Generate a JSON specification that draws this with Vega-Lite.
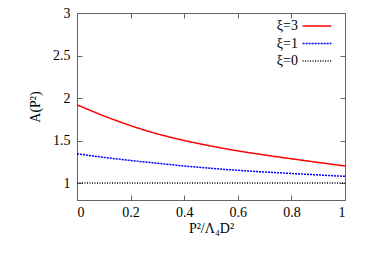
{
  "$schema": "https://vega.github.io/schema/vega-lite/v6.json",
  "autosize": "none",
  "width": 268,
  "height": 187,
  "padding": {"left": 77, "top": 13, "right": 20, "bottom": 63},
  "background": "white",
  "config": {
    "font": "Liberation Serif",
    "view": {"stroke": "#666", "strokeWidth": 1},
    "text": {"font": "Liberation Serif"},
    "legend": {"labelFont": "Liberation Serif"},
    "axis": {"labelFont": "Liberation Serif", "titleFont": "Liberation Serif", "labelFontSize": 14, "titleFontSize": 14, "titleFontWeight": "normal", "labelColor": "#000", "titleColor": "#000", "domainColor": "#666", "tickColor": "#666", "grid": false}
  },
  "data": {"values": [
    {"x": 0, "y": 1.92, "s": "ξ=3"},
    {"x": 0.1, "y": 1.79, "s": "ξ=3"},
    {"x": 0.2, "y": 1.675, "s": "ξ=3"},
    {"x": 0.3, "y": 1.578, "s": "ξ=3"},
    {"x": 0.4, "y": 1.5, "s": "ξ=3"},
    {"x": 0.5, "y": 1.435, "s": "ξ=3"},
    {"x": 0.6, "y": 1.378, "s": "ξ=3"},
    {"x": 0.7, "y": 1.33, "s": "ξ=3"},
    {"x": 0.8, "y": 1.285, "s": "ξ=3"},
    {"x": 0.9, "y": 1.242, "s": "ξ=3"},
    {"x": 1, "y": 1.2, "s": "ξ=3"},
    {"x": 0, "y": 1.344, "s": "ξ=1"},
    {"x": 0.1, "y": 1.302, "s": "ξ=1"},
    {"x": 0.2, "y": 1.265, "s": "ξ=1"},
    {"x": 0.3, "y": 1.232, "s": "ξ=1"},
    {"x": 0.4, "y": 1.2, "s": "ξ=1"},
    {"x": 0.5, "y": 1.173, "s": "ξ=1"},
    {"x": 0.6, "y": 1.149, "s": "ξ=1"},
    {"x": 0.7, "y": 1.13, "s": "ξ=1"},
    {"x": 0.8, "y": 1.112, "s": "ξ=1"},
    {"x": 0.9, "y": 1.095, "s": "ξ=1"},
    {"x": 1, "y": 1.078, "s": "ξ=1"},
    {"x": 0, "y": 1, "s": "ξ=0"},
    {"x": 1, "y": 1, "s": "ξ=0"}
  ]},
  "layer": [
    {
      "mark": {"type": "line", "interpolate": "monotone", "strokeWidth": 1.5},
      "encoding": {
        "x": {"field": "x", "type": "quantitative", "scale": {"domain": [0, 1], "nice": false}, "axis": {"values": [0, 0.2, 0.4, 0.6, 0.8, 1], "format": "~g", "labelFont": "Liberation Serif", "tickSize": -5, "labelPadding": 10, "title": "P²/Λ₄D²", "titlePadding": 2}},
        "y": {"field": "y", "type": "quantitative", "scale": {"domain": [0.8, 3], "nice": false, "zero": false}, "axis": {"values": [1, 1.5, 2, 2.5, 3], "format": "~g", "labelFont": "Liberation Serif", "tickSize": -5, "labelPadding": 12, "title": "A(P²)", "titlePadding": 10}},
        "color": {"field": "s", "type": "nominal", "sort": ["ξ=3", "ξ=1", "ξ=0"], "scale": {"domain": ["ξ=3", "ξ=1", "ξ=0"], "range": ["#ff0000", "#0000ff", "#000000"]},
          "legend": {"orient": "none", "legendX": 231, "legendY": 4, "title": null, "symbolType": "M-1.8,0H1.8", "symbolSize": 256, "symbolStrokeWidth": 1.5, "labelAlign": "right", "labelOffset": -28, "labelFontSize": 14, "labelFont": "Liberation Serif", "labelColor": "#000", "rowPadding": 1.5, "labelLimit": 100}},
        "strokeDash": {"field": "s", "type": "nominal", "sort": ["ξ=3", "ξ=1", "ξ=0"], "scale": {"domain": ["ξ=3", "ξ=1", "ξ=0"], "range": [[1, 0], [2, 1], [1, 1.5]]}, "legend": null}
      }
    },
    {
      "mark": {"type": "line", "opacity": 0},
      "encoding": {
        "x": {"field": "x", "type": "quantitative", "axis": {"orient": "top", "values": [0, 0.2, 0.4, 0.6, 0.8, 1], "tickSize": -5, "labels": false, "title": null}},
        "y": {"field": "y", "type": "quantitative", "axis": {"orient": "right", "values": [1, 1.5, 2, 2.5, 3], "tickSize": -5, "labels": false, "title": null}}
      }
    }
  ],
  "resolve": {"axis": {"x": "independent", "y": "independent"}}
}
